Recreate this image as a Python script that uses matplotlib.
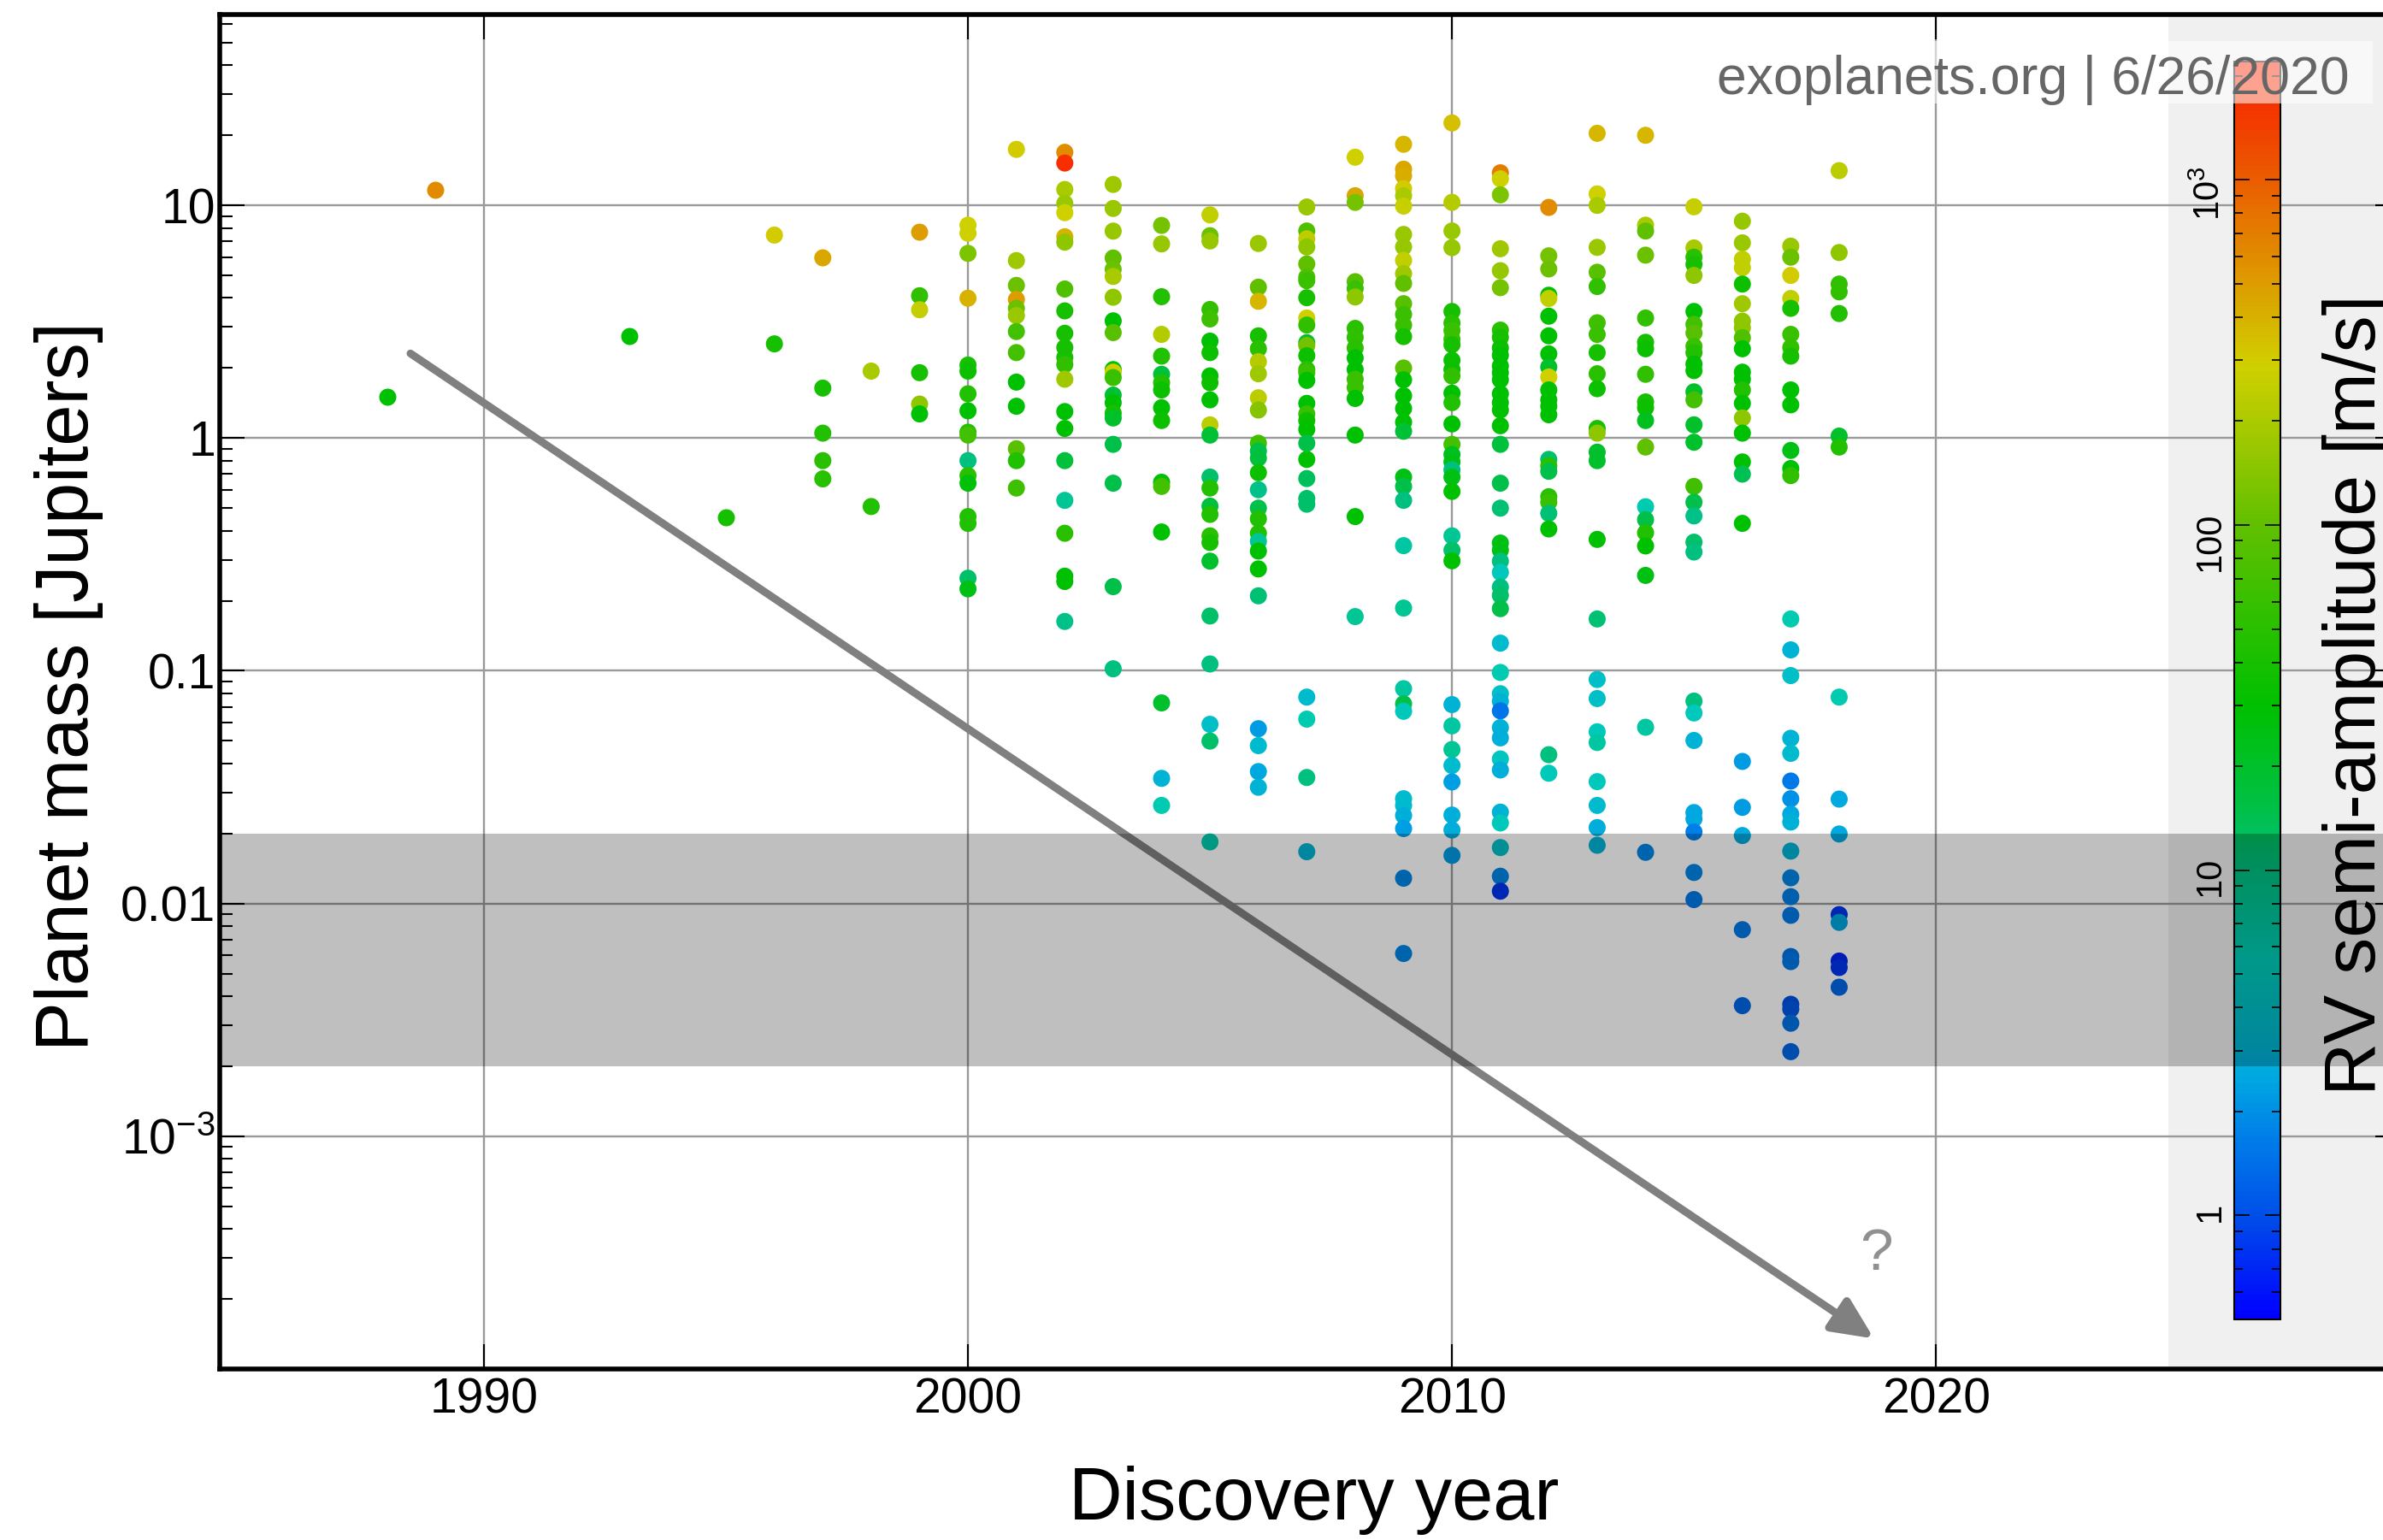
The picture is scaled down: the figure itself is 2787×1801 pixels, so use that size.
import numpy as np
import matplotlib
matplotlib.use('Agg')
import matplotlib.pyplot as plt
import matplotlib.ticker as mticker
from matplotlib import transforms as mtransforms
from matplotlib.colors import LinearSegmentedColormap, LogNorm
from matplotlib.patches import Rectangle

plt.rcParams['font.family'] = ['Liberation Sans', 'DejaVu Sans']
plt.rcParams['mathtext.fontset'] = 'custom'
plt.rcParams['mathtext.rm'] = 'Liberation Sans'
plt.rcParams['mathtext.default'] = 'regular'

# planet mass [M_jup] and RV semi-amplitude K [m/s], grouped by discovery year
m_1988 = [1.50]
k_1988 = [30]
m_1989 = [11.7]
k_1989 = [600]
m_1993 = [2.75]
k_1993 = [30]
m_1995 = [0.458]
k_1995 = [40]
m_1996 = [7.45, 2.54]
k_1996 = [300, 40]
m_1997 = [5.95, 1.64, 1.05, 0.80, 0.668]
k_1997 = [450, 40, 45, 50, 50]
m_1998 = [1.94, 0.508]
k_1998 = [200, 45]
m_1999 = [7.67, 4.09, 3.56, 1.91, 1.40, 1.27]
k_1999 = [500, 55, 260, 40, 150, 30]
m_2000 = [8.22, 7.59, 6.22, 3.99, 2.06, 1.94, 1.55, 1.31, 1.06, 1.03, 0.80, 0.69,
          0.64, 0.46, 0.43, 0.25, 0.225]
k_2000 = [280, 280, 130, 400, 40, 35, 45, 30, 45, 70, 10, 50, 28, 45, 45, 12, 25]
m_2001 = [17.4, 5.79, 4.53, 3.94, 3.61, 3.36, 2.87, 2.33, 1.74, 1.37, 0.90, 0.80, 0.61]
k_2001 = [300, 180, 110, 500, 110, 170, 70, 70, 30, 30, 90, 45, 65]
m_2002 = [16.9, 15.2, 11.7, 10.2, 9.3, 7.33, 6.95, 4.37, 3.52, 2.82, 2.45, 2.22, 2.07,
          1.79, 1.30, 1.10, 0.80, 0.54, 0.39, 0.255, 0.242, 0.163]
k_2002 = [600, 1800, 200, 170, 280, 400, 150, 80, 40, 40, 40, 40, 55, 180, 30, 30, 17,
          8, 50, 30, 30, 9]
m_2003 = [12.3, 9.7, 7.75, 5.94, 5.31, 4.95, 4.03, 3.19, 2.84, 1.97, 1.92, 1.82, 1.53,
          1.42, 1.28, 1.22, 0.94, 0.64, 0.23, 0.102]
k_2003 = [180, 170, 160, 100, 110, 200, 150, 30, 90, 30, 280, 60, 18, 30, 40, 20, 15,
          15, 15, 10]
m_2004 = [8.2, 6.83, 4.05, 2.79, 2.25, 1.88, 1.73, 1.61, 1.35, 1.19, 0.646, 0.62,
          0.395, 0.0728, 0.0345, 0.0264]
k_2004 = [120, 160, 45, 220, 45, 17, 45, 35, 30, 35, 30, 70, 30, 20, 3, 6]
m_2005 = [9.1, 7.41, 7.03, 3.57, 3.25, 2.61, 2.33, 1.85, 1.73, 1.46, 1.14, 1.03, 0.68,
          0.61, 0.51, 0.47, 0.38, 0.356, 0.296, 0.172, 0.107, 0.0589, 0.0499, 0.0184]
k_2005 = [250, 110, 160, 55, 65, 30, 35, 30, 35, 30, 230, 18, 12, 45, 17, 45, 50, 40,
          20, 12, 10, 4, 12, 6]
m_2006 = [6.86, 4.45, 3.87, 2.75, 2.42, 2.13, 1.89, 1.49, 1.32, 0.95, 0.88, 0.82, 0.71,
          0.60, 0.50, 0.45, 0.39, 0.36, 0.327, 0.274, 0.21, 0.0564, 0.0477, 0.0369,
          0.0316]
k_2006 = [170, 100, 380, 40, 50, 220, 180, 230, 140, 65, 15, 17, 35, 9, 15, 45, 45, 8,
          30, 30, 11, 2.2, 3.5, 2.5, 3]
m_2007 = [9.84, 7.76, 7.18, 6.63, 5.60, 4.92, 4.75, 4.01, 3.28, 3.06, 2.57, 2.50, 2.26,
          1.97, 1.91, 1.77, 1.41, 1.27, 1.19, 1.09, 0.95, 0.81, 0.67, 0.55, 0.52,
          0.0771, 0.062, 0.0348, 0.0167]
k_2007 = [170, 80, 240, 150, 100, 80, 60, 40, 280, 55, 20, 120, 35, 50, 60, 30, 30, 60,
          35, 30, 15, 30, 13, 12, 12, 3.5, 6, 10, 3]
m_2008 = [16.1, 11.0, 10.3, 4.70, 4.39, 4.04, 2.96, 2.71, 2.44, 2.21, 1.97, 1.79, 1.65,
          1.48, 1.03, 0.46, 0.171]
k_2008 = [280, 450, 120, 90, 60, 150, 50, 55, 50, 30, 30, 60, 60, 30, 30, 30, 8]
m_2009 = [18.3, 14.3, 13.4, 11.8, 11.0, 9.93, 7.50, 6.63, 5.80, 5.09, 4.62, 3.78, 3.40,
          3.06, 2.73, 2.00, 1.78, 1.52, 1.34, 1.17, 1.07, 0.68, 0.62, 0.54, 0.345,
          0.186, 0.0838, 0.0721, 0.067, 0.0282, 0.0264, 0.0239, 0.021, 0.01285, 0.0061]
k_2009 = [380, 450, 420, 300, 200, 270, 170, 160, 250, 180, 100, 90, 60, 60, 40, 90, 30,
          30, 30, 30, 18, 25, 15, 10, 7, 8, 7, 15, 5, 3.5, 3.5, 2.8, 2.3, 1.8, 1.8]
m_2010 = [22.6, 10.3, 7.76, 6.58, 3.50, 3.12, 2.90, 2.66, 2.52, 2.16, 1.97, 1.85, 1.56,
          1.42, 1.15, 0.94, 0.85, 0.79, 0.73, 0.68, 0.59, 0.38, 0.33, 0.297, 0.0716,
          0.058, 0.0459, 0.0392, 0.0333, 0.024, 0.0207, 0.0161]
k_2010 = [350, 220, 170, 160, 40, 50, 60, 60, 40, 35, 35, 55, 30, 45, 30, 70, 22, 25, 10,
          25, 30, 8, 12, 30, 3, 7, 8, 3.5, 2.3, 2.8, 2.7, 2.2]
m_2011 = [13.8, 13.0, 11.1, 6.51, 5.24, 4.43, 2.91, 2.71, 2.44, 2.27, 2.04, 1.91, 1.78,
          1.55, 1.42, 1.32, 1.13, 0.94, 0.64, 0.50, 0.354, 0.33, 0.296, 0.265, 0.229,
          0.211, 0.185, 0.1315, 0.0984, 0.0797, 0.074, 0.0673, 0.057, 0.0515, 0.0418,
          0.0375, 0.0247, 0.0222, 0.0174, 0.0131, 0.0113]
k_2011 = [700, 280, 130, 180, 160, 120, 50, 40, 35, 30, 30, 30, 30, 30, 30, 30, 30, 17,
          15, 11, 25, 25, 10, 5, 10, 12, 15, 3.5, 6, 4, 3, 1.5, 3, 2.8, 4.5, 2.8, 3, 5,
          4, 1.8, 0.8]
m_2012 = [9.8, 6.07, 5.33, 4.11, 3.98, 3.34, 2.75, 2.30, 2.02, 1.83, 1.61, 1.46, 1.37,
          1.26, 0.81, 0.76, 0.72, 0.56, 0.53, 0.475, 0.407, 0.0436, 0.0363]
k_2012 = [600, 120, 110, 30, 250, 30, 30, 30, 20, 280, 30, 30, 30, 30, 12, 50, 15, 50,
          60, 11, 30, 10, 5]
m_2013 = [20.4, 11.2, 10.0, 6.6, 5.16, 4.48, 3.13, 2.79, 2.33, 1.89, 1.63, 1.10, 1.05,
          0.87, 0.80, 0.367, 0.167, 0.0918, 0.076, 0.0547, 0.0492, 0.0334, 0.0264,
          0.0212, 0.0178]
k_2013 = [380, 280, 200, 170, 90, 55, 65, 60, 40, 50, 35, 40, 150, 20, 20, 30, 11, 4, 4,
          5, 7, 5, 3.5, 2.7, 3]
m_2014 = [20.0, 8.22, 7.76, 6.11, 3.28, 2.58, 2.42, 1.88, 1.43, 1.35, 1.19, 0.915,
          0.507, 0.446, 0.392, 0.344, 0.257, 0.0572, 0.0166]
k_2014 = [380, 200, 100, 110, 55, 40, 35, 55, 40, 35, 22, 100, 6, 15, 45, 30, 25, 7, 1.8]
m_2015 = [9.86, 6.56, 5.99, 5.58, 5.00, 3.50, 3.08, 2.83, 2.48, 2.33, 2.08, 1.95, 1.58,
          1.46, 1.14, 0.96, 0.62, 0.53, 0.463, 0.357, 0.324, 0.0741, 0.0659, 0.0502,
          0.0246, 0.0231, 0.0203, 0.0136, 0.0104]
k_2015 = [260, 190, 50, 40, 150, 30, 70, 90, 60, 45, 30, 30, 20, 70, 20, 20, 65, 15, 9,
          12, 10, 10, 5, 3, 2.5, 2.5, 1.7, 1.8, 1.6]
m_2016 = [8.55, 6.90, 5.87, 5.40, 4.59, 3.78, 3.18, 2.98, 2.70, 2.42, 1.92, 1.79, 1.61,
          1.41, 1.22, 1.05, 0.79, 0.70, 0.43, 0.0408, 0.0259, 0.0196, 0.00772, 0.00364]
k_2016 = [160, 170, 250, 250, 35, 180, 150, 150, 80, 30, 30, 30, 45, 30, 150, 30, 30,
          14, 30, 2.2, 2.2, 2.6, 1.6, 1.3]
m_2017 = [6.68, 5.99, 5.00, 3.98, 3.61, 2.79, 2.45, 2.25, 1.61, 1.39, 0.885, 0.74, 0.69,
          0.167, 0.123, 0.0954, 0.0513, 0.0442, 0.0336, 0.0282, 0.0242, 0.0224, 0.0168,
          0.0129, 0.0107, 0.0089, 0.00592, 0.00563, 0.00369, 0.00352, 0.00306, 0.00231]
k_2017 = [170, 110, 300, 250, 40, 60, 55, 40, 30, 30, 25, 30, 55, 6, 3, 4, 3, 3.5, 1.6,
          2, 2.5, 2.9, 3, 1.8, 1.7, 1.6, 1.5, 1.6, 1.0, 1.1, 1.5, 1.3]
m_2018 = [14.1, 6.27, 4.59, 4.25, 3.43, 1.02, 0.915, 0.0771, 0.0281, 0.0199, 0.00896,
          0.0083, 0.00566, 0.00531, 0.00437]
k_2018 = [230, 150, 55, 55, 45, 20, 45, 6, 2.6, 2.6, 0.8, 2.5, 0.7, 0.8, 1.3]

years = [1988, 1989, 1993, 1995, 1996, 1997, 1998, 1999, 2000, 2001, 2002, 2003, 2004,
         2005, 2006, 2007, 2008, 2009, 2010, 2011, 2012, 2013, 2014, 2015, 2016, 2017,
         2018]
masses = [m_1988, m_1989, m_1993, m_1995, m_1996, m_1997, m_1998, m_1999, m_2000,
          m_2001, m_2002, m_2003, m_2004, m_2005, m_2006, m_2007, m_2008, m_2009,
          m_2010, m_2011, m_2012, m_2013, m_2014, m_2015, m_2016, m_2017, m_2018]
amplitudes = [k_1988, k_1989, k_1993, k_1995, k_1996, k_1997, k_1998, k_1999, k_2000,
              k_2001, k_2002, k_2003, k_2004, k_2005, k_2006, k_2007, k_2008, k_2009,
              k_2010, k_2011, k_2012, k_2013, k_2014, k_2015, k_2016, k_2017, k_2018]

# colour scale for K (log), blue -> cyan -> green -> yellow -> red
k_min, k_max = 0.5, 2200
k_stops = [0.5, 1.0, 1.7, 2.5, 3.0, 5.4, 10, 15, 30, 100, 180, 290, 575, 1400, 2200]
k_colors = ['#0000ff', '#0050e8', '#0080e8', '#00a8e0', '#00b4d4', '#00ccb8', '#00c080',
            '#00c048', '#00c000', '#60c000', '#a0c800', '#d0d000', '#e09000', '#f04000',
            '#ff2000']

W, H, DPI = 2787, 1801, 100
GRID = '#999999'

lk0, lk1 = np.log10(k_min), np.log10(k_max)
pos = [(np.log10(k) - lk0) / (lk1 - lk0) for k in k_stops]
pos[0], pos[-1] = 0.0, 1.0
cmap = LinearSegmentedColormap.from_list('rv_k', list(zip(pos, k_colors)))
norm = LogNorm(vmin=k_min, vmax=k_max)

fig = plt.figure(figsize=(W / DPI, H / DPI), dpi=DPI)
ax = fig.add_axes([257 / W, 1 - 1601 / H, 2550 / W, 1584 / H])
ax.set_yscale('log')

# light panel behind the colour bar
ax.axvspan(2024.8, 2035, color='#f0f0f0', lw=0, zorder=0.2)

for yr, m, k in zip(years, masses, amplitudes):
    ax.scatter(np.full(len(m), yr), m, c=k, cmap=cmap, norm=norm, s=207,
               linewidths=0, zorder=3)

ax.annotate('', xy=(2018.72, 1.35e-4), xytext=(1988.48, 2.31),
            arrowprops=dict(arrowstyle='-|>,head_length=2.9,head_width=1.35',
                            color='#808080', lw=6.5, shrinkA=0, shrinkB=0,
                            mutation_scale=10),
            zorder=4)
ax.text(2018.76, 3.1e-4, '?', fontsize=50, color='#909090', ha='center', va='center')

ax.set_xlim(1984.54, 2029.59)
ax.set_ylim(1e-4, 66.06)

ax.xaxis.set_major_locator(mticker.MultipleLocator(10))
ax.set_yticks([1e-3, 1e-2, 1e-1, 1, 10], ['$10^{-3}$', '0.01', '0.1', '1', '10'])
ax.yaxis.set_minor_locator(mticker.LogLocator(base=10, subs=np.arange(2, 10), numticks=30))
ax.yaxis.set_minor_formatter(mticker.NullFormatter())

ax.grid(True, which='major', color=GRID, lw=1.7)
ax.set_axisbelow(True)
ax.tick_params(which='both', direction='in', top=True, right=True, width=1.5)
ax.tick_params(which='major', length=21, labelsize=41)
ax.tick_params(which='minor', length=11)
ax.tick_params(axis='x', pad=7)
ax.tick_params(axis='y', pad=3.6)
for sp in ax.spines.values():
    sp.set_linewidth(4)

fig.text(103 / W, 1 - 803 / H, 'Planet mass [Jupiters]', rotation=90,
         rotation_mode='anchor', ha='center', va='baseline', fontsize=62.5)
fig.text(1537 / W, 1 - 1777 / H, 'Discovery year', ha='center', va='baseline',
         fontsize=62.5)

# colour bar sits inside the plot area on the right
cax = fig.add_axes([2613 / W, 1 - 1543 / H, 54 / W, 1471 / H])
sm = matplotlib.cm.ScalarMappable(norm=norm, cmap=cmap)
cb = fig.colorbar(sm, cax=cax)
cb.set_ticks([1, 10, 100, 1000], labels=['1', '10', '100', '$10^3$'])
cax.yaxis.set_minor_locator(mticker.LogLocator(base=10, subs=np.arange(2, 10), numticks=30))
cax.yaxis.set_minor_formatter(mticker.NullFormatter())
cb.outline.set_linewidth(1.5)
cax.tick_params(which='both', direction='in', left=True, right=True, labelleft=True,
                labelright=False, width=1.2, color='black')
cax.tick_params(axis='y', labelrotation=90, labelsize=30, pad=6)
cax.tick_params(which='major', length=13)
cax.tick_params(which='minor', length=7.5)
fig.text(2778 / W, 1 - 813 / H, 'RV semi-amplitude [m/s]', rotation=90,
         rotation_mode='anchor', ha='center', va='baseline', fontsize=62)

# shaded mass band over everything, including the colour bar
band_tr = mtransforms.blended_transform_factory(ax.transAxes, ax.transData)
fig.add_artist(Rectangle((0, 0.002), 1, 0.018, transform=band_tr, facecolor='black',
                         alpha=0.25, lw=0, zorder=20))

fig.add_artist(Rectangle((1990 / W, 1 - 121 / H), 785 / W, 73 / H,
                         transform=fig.transFigure, facecolor='white', alpha=0.57,
                         lw=0, zorder=21))
fig.text(2748 / W, 1 - 110 / H, 'exoplanets.org | 6/26/2020', ha='right',
         va='baseline', fontsize=45, color='#666666', zorder=22)

fig.savefig('out.png', dpi=DPI)
